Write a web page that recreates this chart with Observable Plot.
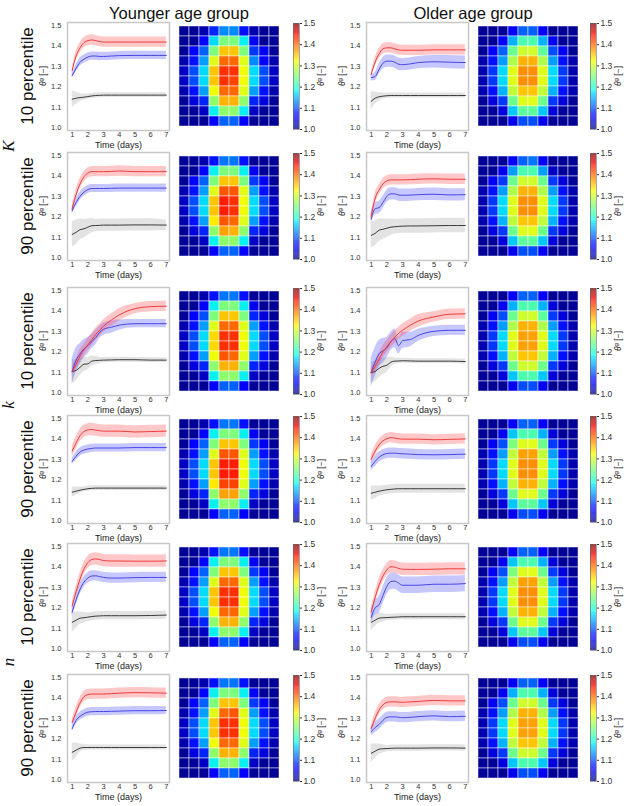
<!DOCTYPE html>
<html><head><meta charset="utf-8">
<script src="https://cdn.jsdelivr.net/npm/d3@7"></script>
<script src="https://cdn.jsdelivr.net/npm/@observablehq/plot@0.6"></script>
<style>
body{margin:0;background:#fff;font-family:"Liberation Sans",Arial,sans-serif;}
#fig{position:relative;width:625px;height:806px;overflow:hidden;background:#fff}
#fig svg{position:absolute;overflow:visible}
.lbl{position:absolute;white-space:nowrap;line-height:1;transform:translate(-50%,-50%);color:#111}
.rot{transform:translate(-50%,-50%) rotate(-90deg)}
.lbl sup{font-size:0.72em;vertical-align:0.45em;line-height:0}
</style></head>
<body><div id="fig"></div>
<script>
// ---------- data ----------
const groups = ["Younger age group", "Older age group"];
const rowLabels = ["10 percentile","90 percentile","10 percentile","90 percentile","10 percentile","90 percentile"];
const paramLabels = ["K","k","n"];
const days = [1,1.25,1.5,1.75,2,2.25,2.5,2.75,3,3.5,4,5,6,7];
const xTicks = [1,2,3,4,5,6,7];
const yTicks = [1.0,1.1,1.2,1.3,1.4,1.5];

// Younger, K 10 percentile
const yK10Red   = [1.28,1.35,1.39,1.415,1.425,1.428,1.425,1.42,1.418,1.418,1.418,1.418,1.418,1.418];
const yK10RedW  = [.015,.022,.025,.025,.025,.025,.025,.025,.025,.025,.025,.025,.025,.025];
const yK10Blue  = [1.255,1.29,1.32,1.335,1.345,1.35,1.35,1.348,1.348,1.35,1.352,1.353,1.353,1.353];
const yK10BlueW = [.012,.018,.02,.02,.02,.02,.02,.02,.02,.02,.02,.02,.02,.02];
const yK10Blk   = [1.14,1.145,1.148,1.15,1.153,1.156,1.158,1.159,1.16,1.16,1.16,1.16,1.16,1.16];
const yK10BlkW  = [.04,.03,.02,.015,.013,.012,.012,.012,.012,.012,.012,.012,.012,.012];
// Older, K 10 percentile
const oK10Red   = [1.26,1.32,1.36,1.385,1.39,1.39,1.385,1.38,1.378,1.378,1.378,1.38,1.38,1.38];
const oK10RedW  = [.012,.02,.025,.025,.025,.025,.025,.025,.025,.025,.025,.025,.025,.025];
const oK10Blue  = [1.245,1.25,1.285,1.315,1.325,1.325,1.32,1.31,1.308,1.312,1.318,1.322,1.32,1.318];
const oK10BlueW = [.015,.02,.025,.028,.03,.03,.03,.03,.03,.03,.03,.03,.032,.032];
const oK10Blk   = [1.13,1.145,1.152,1.155,1.157,1.158,1.158,1.158,1.158,1.158,1.158,1.158,1.158,1.158];
const oK10BlkW  = [.045,.03,.02,.015,.012,.012,.012,.012,.012,.012,.012,.012,.012,.012];
// Younger, K 90 percentile
const yK90Red   = [1.24,1.31,1.36,1.395,1.413,1.42,1.42,1.42,1.42,1.421,1.423,1.42,1.42,1.42];
const yK90RedW  = [.015,.022,.025,.025,.025,.025,.025,.025,.025,.025,.025,.025,.025,.025];
const yK90Blue  = [1.23,1.27,1.30,1.32,1.333,1.338,1.338,1.338,1.338,1.339,1.34,1.34,1.34,1.34];
const yK90BlueW = [.015,.02,.02,.02,.02,.02,.02,.02,.02,.02,.02,.02,.02,.02];
const yK90Blk   = [1.115,1.125,1.138,1.142,1.15,1.157,1.158,1.159,1.16,1.16,1.16,1.161,1.161,1.16];
const yK90BlkW  = [.06,.06,.05,.045,.04,.035,.03,.03,.03,.03,.03,.03,.03,.025];
// Older, K 90 percentile
const oK90Red   = [1.2,1.29,1.33,1.36,1.375,1.38,1.38,1.38,1.38,1.381,1.383,1.385,1.383,1.383];
const oK90RedW  = [.015,.025,.025,.025,.025,.025,.025,.025,.025,.025,.025,.025,.025,.025];
const oK90Blue  = [1.19,1.24,1.245,1.27,1.30,1.312,1.312,1.306,1.305,1.306,1.308,1.31,1.307,1.308];
const oK90BlueW = [.03,.03,.03,.03,.03,.03,.03,.03,.03,.03,.03,.03,.03,.03];
const oK90Blk   = [1.11,1.12,1.135,1.14,1.145,1.15,1.152,1.154,1.155,1.156,1.156,1.157,1.158,1.158];
const oK90BlkW  = [.06,.06,.055,.05,.045,.04,.035,.035,.035,.035,.035,.035,.035,.035];
// Younger, k 10 percentile
const yk10Red   = [1.105,1.14,1.18,1.21,1.235,1.26,1.285,1.305,1.325,1.355,1.38,1.41,1.42,1.422];
const yk10RedW  = [.02,.025,.03,.03,.03,.03,.03,.03,.03,.03,.03,.025,.025,.025];
const yk10Blue  = [1.105,1.16,1.19,1.215,1.23,1.25,1.27,1.295,1.31,1.32,1.33,1.337,1.337,1.337];
const yk10BlueW = [.06,.06,.05,.045,.04,.035,.035,.03,.03,.03,.025,.02,.02,.02];
const yk10Blk   = [1.105,1.11,1.125,1.14,1.142,1.155,1.158,1.159,1.16,1.161,1.162,1.162,1.16,1.16];
const yk10BlkW  = [.06,.05,.04,.035,.03,.025,.02,.015,.013,.012,.012,.012,.012,.012];
// Older, k 10 percentile
const ok10Red   = [1.10,1.13,1.165,1.2,1.225,1.25,1.27,1.29,1.305,1.33,1.35,1.37,1.383,1.385];
const ok10RedW  = [.02,.025,.03,.03,.03,.03,.03,.03,.03,.03,.03,.025,.025,.025];
const ok10Blue  = [1.10,1.15,1.19,1.205,1.22,1.25,1.265,1.23,1.255,1.26,1.28,1.30,1.305,1.305];
const ok10BlueW = [.07,.07,.065,.06,.05,.045,.045,.04,.04,.035,.03,.025,.025,.025];
const ok10Blk   = [1.10,1.105,1.12,1.13,1.135,1.15,1.155,1.156,1.157,1.156,1.155,1.155,1.155,1.153];
const ok10BlkW  = [.05,.05,.045,.04,.035,.025,.015,.013,.012,.012,.012,.012,.012,.012];
// Younger, k 90 percentile
const yk90Red   = [1.34,1.38,1.415,1.435,1.443,1.445,1.442,1.439,1.437,1.437,1.437,1.433,1.435,1.437];
const yk90RedW  = [.025,.03,.03,.03,.03,.03,.03,.03,.03,.03,.03,.03,.03,.03];
const yk90Blue  = [1.29,1.315,1.335,1.345,1.35,1.353,1.355,1.355,1.355,1.355,1.355,1.357,1.357,1.357];
const yk90BlueW = [.015,.02,.02,.02,.02,.02,.02,.02,.02,.02,.02,.02,.02,.02];
const yk90Blk   = [1.14,1.145,1.15,1.154,1.157,1.159,1.16,1.16,1.16,1.16,1.16,1.16,1.16,1.16];
const yk90BlkW  = [.025,.02,.015,.012,.012,.012,.012,.012,.012,.012,.012,.012,.012,.012];
// Older, k 90 percentile
const ok90Red   = [1.3,1.34,1.37,1.39,1.40,1.405,1.403,1.4,1.398,1.398,1.398,1.395,1.397,1.399];
const ok90RedW  = [.02,.025,.025,.025,.025,.025,.025,.025,.025,.025,.025,.025,.025,.025];
const ok90Blue  = [1.265,1.29,1.31,1.322,1.328,1.33,1.33,1.328,1.327,1.325,1.323,1.322,1.323,1.325];
const ok90BlueW = [.02,.025,.025,.025,.025,.025,.025,.025,.025,.025,.025,.025,.025,.025];
const ok90Blk   = [1.135,1.14,1.145,1.149,1.152,1.154,1.156,1.157,1.157,1.157,1.157,1.157,1.157,1.157];
const ok90BlkW  = [.035,.03,.025,.022,.022,.022,.022,.022,.022,.022,.022,.022,.022,.022];
// Younger, n 10 percentile
const yn10Red   = [1.21,1.28,1.34,1.39,1.42,1.435,1.438,1.435,1.43,1.428,1.428,1.427,1.427,1.428];
const yn10RedW  = [.02,.025,.03,.03,.03,.03,.03,.03,.03,.03,.03,.03,.03,.03];
const yn10Blue  = [1.18,1.24,1.29,1.325,1.345,1.355,1.356,1.352,1.348,1.345,1.345,1.347,1.348,1.348];
const yn10BlueW = [.02,.025,.025,.025,.025,.025,.025,.025,.025,.025,.025,.025,.025,.025];
const yn10Blk   = [1.13,1.14,1.15,1.152,1.155,1.158,1.16,1.161,1.162,1.162,1.162,1.162,1.163,1.165];
const yn10BlkW  = [.05,.04,.03,.025,.02,.02,.02,.02,.02,.02,.02,.02,.02,.02];
// Older, n 10 percentile
const on10Red   = [1.18,1.25,1.31,1.355,1.385,1.40,1.398,1.392,1.388,1.387,1.387,1.388,1.39,1.39];
const on10RedW  = [.02,.025,.03,.03,.03,.03,.03,.03,.03,.03,.03,.03,.03,.03];
const on10Blue  = [1.155,1.2,1.215,1.26,1.305,1.328,1.33,1.32,1.31,1.31,1.31,1.315,1.315,1.318];
const on10BlueW = [.03,.035,.04,.04,.04,.04,.04,.04,.04,.04,.04,.04,.04,.04];
const on10Blk   = [1.13,1.14,1.15,1.152,1.153,1.154,1.155,1.156,1.157,1.157,1.157,1.157,1.157,1.157];
const on10BlkW  = [.04,.03,.025,.02,.015,.015,.015,.015,.015,.015,.015,.015,.015,.015];
// Younger, n 90 percentile
const yn90Red   = [1.28,1.33,1.375,1.405,1.415,1.418,1.418,1.418,1.418,1.42,1.422,1.425,1.424,1.422];
const yn90RedW  = [.015,.025,.025,.025,.025,.025,.025,.025,.025,.025,.025,.025,.025,.025];
const yn90Blue  = [1.25,1.29,1.31,1.322,1.33,1.332,1.333,1.333,1.333,1.334,1.335,1.337,1.337,1.338];
const yn90BlueW = [.015,.02,.02,.02,.02,.02,.02,.02,.02,.02,.02,.02,.02,.02];
const yn90Blk   = [1.135,1.145,1.155,1.158,1.158,1.158,1.158,1.158,1.158,1.158,1.158,1.158,1.158,1.158];
const yn90BlkW  = [.045,.035,.02,.015,.012,.012,.012,.012,.012,.012,.012,.012,.012,.012];
// Older, n 90 percentile
const on90Red   = [1.25,1.3,1.34,1.365,1.378,1.38,1.38,1.379,1.378,1.38,1.382,1.387,1.385,1.385];
const on90RedW  = [.015,.025,.025,.025,.025,.025,.025,.025,.025,.025,.025,.025,.025,.025];
const on90Blue  = [1.235,1.255,1.27,1.29,1.305,1.307,1.307,1.305,1.303,1.305,1.308,1.312,1.308,1.31];
const on90BlueW = [.02,.025,.025,.025,.025,.025,.025,.025,.025,.025,.025,.025,.025,.025];
const on90Blk   = [1.13,1.14,1.15,1.152,1.153,1.154,1.155,1.155,1.155,1.155,1.155,1.156,1.156,1.155];
const on90BlkW  = [.045,.035,.025,.02,.015,.015,.015,.015,.015,.015,.015,.015,.015,.015];

// Heatmaps (10 x 10, rows top to bottom)
const heatYK10 = [
 [1.01,1.01,1.02,1.08,1.13,1.13,1.07,1.02,1.01,1.01],
 [1.01,1.01,1.06,1.17,1.25,1.25,1.18,1.05,1.01,1.01],
 [1.01,1.06,1.11,1.25,1.35,1.35,1.25,1.09,1.05,1.01],
 [1.02,1.07,1.14,1.31,1.40,1.40,1.31,1.13,1.06,1.02],
 [1.03,1.10,1.17,1.35,1.43,1.43,1.32,1.17,1.10,1.03],
 [1.03,1.10,1.17,1.35,1.43,1.42,1.32,1.17,1.10,1.03],
 [1.02,1.07,1.14,1.32,1.40,1.40,1.31,1.14,1.07,1.02],
 [1.01,1.04,1.08,1.26,1.36,1.36,1.26,1.08,1.04,1.01],
 [1.01,1.01,1.03,1.18,1.26,1.26,1.18,1.03,1.01,1.01],
 [1.01,1.01,1.01,1.06,1.11,1.11,1.06,1.01,1.01,1.01]];
const heatOK10 = [
 [1.01,1.01,1.01,1.06,1.11,1.11,1.06,1.01,1.01,1.01],
 [1.01,1.01,1.06,1.15,1.22,1.22,1.15,1.05,1.01,1.01],
 [1.01,1.06,1.11,1.24,1.30,1.30,1.23,1.10,1.05,1.01],
 [1.02,1.07,1.14,1.28,1.36,1.36,1.28,1.14,1.07,1.02],
 [1.02,1.09,1.17,1.31,1.38,1.38,1.31,1.17,1.09,1.02],
 [1.02,1.09,1.17,1.31,1.38,1.38,1.31,1.17,1.09,1.02],
 [1.02,1.07,1.15,1.29,1.35,1.35,1.29,1.15,1.07,1.02],
 [1.01,1.04,1.09,1.24,1.31,1.31,1.24,1.09,1.04,1.01],
 [1.01,1.01,1.04,1.16,1.23,1.23,1.16,1.04,1.01,1.01],
 [1.01,1.01,1.01,1.05,1.10,1.10,1.05,1.01,1.01,1.01]];
const heatYK90 = [
 [1.01,1.01,1.02,1.07,1.12,1.12,1.07,1.01,1.01,1.01],
 [1.01,1.01,1.06,1.18,1.25,1.25,1.18,1.05,1.01,1.01],
 [1.01,1.06,1.11,1.25,1.35,1.35,1.25,1.09,1.05,1.01],
 [1.02,1.07,1.14,1.31,1.41,1.41,1.31,1.14,1.07,1.02],
 [1.03,1.10,1.17,1.35,1.44,1.43,1.32,1.17,1.10,1.03],
 [1.03,1.10,1.17,1.35,1.44,1.43,1.32,1.17,1.10,1.03],
 [1.02,1.07,1.14,1.33,1.41,1.40,1.31,1.14,1.07,1.02],
 [1.01,1.04,1.08,1.26,1.37,1.36,1.26,1.08,1.04,1.01],
 [1.01,1.01,1.03,1.18,1.26,1.26,1.18,1.03,1.01,1.01],
 [1.01,1.01,1.01,1.06,1.11,1.11,1.06,1.01,1.01,1.01]];
const heatOK90 = [
 [1.01,1.01,1.01,1.06,1.11,1.12,1.06,1.01,1.01,1.01],
 [1.01,1.01,1.05,1.14,1.22,1.22,1.14,1.03,1.01,1.01],
 [1.01,1.05,1.09,1.24,1.30,1.30,1.24,1.09,1.04,1.01],
 [1.02,1.07,1.14,1.28,1.36,1.36,1.28,1.14,1.07,1.02],
 [1.02,1.09,1.17,1.31,1.38,1.38,1.31,1.17,1.09,1.02],
 [1.02,1.09,1.17,1.31,1.38,1.38,1.31,1.17,1.09,1.02],
 [1.02,1.07,1.15,1.29,1.35,1.35,1.29,1.15,1.07,1.02],
 [1.01,1.04,1.09,1.24,1.31,1.31,1.24,1.09,1.04,1.01],
 [1.01,1.01,1.04,1.16,1.23,1.23,1.16,1.04,1.01,1.01],
 [1.01,1.01,1.01,1.05,1.10,1.10,1.05,1.01,1.01,1.01]];
const heatYk10 = [
 [1.01,1.01,1.02,1.07,1.12,1.12,1.07,1.01,1.01,1.01],
 [1.01,1.01,1.06,1.18,1.25,1.25,1.18,1.05,1.01,1.01],
 [1.01,1.06,1.10,1.25,1.35,1.35,1.25,1.08,1.04,1.01],
 [1.02,1.07,1.14,1.31,1.40,1.40,1.31,1.14,1.07,1.02],
 [1.03,1.10,1.17,1.34,1.43,1.43,1.32,1.17,1.10,1.03],
 [1.03,1.10,1.17,1.34,1.43,1.43,1.32,1.17,1.10,1.03],
 [1.02,1.07,1.14,1.32,1.41,1.40,1.31,1.14,1.07,1.02],
 [1.01,1.04,1.08,1.26,1.36,1.36,1.26,1.08,1.04,1.01],
 [1.01,1.01,1.03,1.18,1.26,1.26,1.18,1.03,1.01,1.01],
 [1.01,1.01,1.01,1.06,1.11,1.11,1.06,1.01,1.01,1.01]];
const heatOk10 = [
 [1.01,1.01,1.01,1.06,1.11,1.11,1.06,1.01,1.01,1.01],
 [1.01,1.01,1.05,1.15,1.22,1.22,1.15,1.04,1.01,1.01],
 [1.01,1.05,1.10,1.24,1.30,1.30,1.23,1.09,1.04,1.01],
 [1.02,1.07,1.14,1.28,1.36,1.36,1.28,1.14,1.07,1.02],
 [1.02,1.09,1.17,1.31,1.37,1.37,1.31,1.17,1.09,1.02],
 [1.02,1.09,1.17,1.31,1.37,1.37,1.31,1.17,1.09,1.02],
 [1.02,1.07,1.15,1.29,1.35,1.35,1.29,1.15,1.07,1.02],
 [1.01,1.04,1.09,1.24,1.30,1.30,1.24,1.09,1.04,1.01],
 [1.01,1.01,1.04,1.16,1.22,1.22,1.16,1.04,1.01,1.01],
 [1.01,1.01,1.01,1.05,1.10,1.10,1.05,1.01,1.01,1.01]];
const heatYk90 = [
 [1.01,1.01,1.02,1.07,1.12,1.12,1.07,1.01,1.01,1.01],
 [1.01,1.01,1.06,1.18,1.25,1.25,1.18,1.05,1.01,1.01],
 [1.01,1.06,1.11,1.25,1.35,1.35,1.25,1.09,1.05,1.01],
 [1.02,1.07,1.14,1.31,1.41,1.41,1.31,1.14,1.07,1.02],
 [1.03,1.10,1.17,1.35,1.44,1.44,1.32,1.17,1.10,1.03],
 [1.03,1.10,1.17,1.35,1.44,1.44,1.32,1.17,1.10,1.03],
 [1.02,1.07,1.14,1.33,1.42,1.42,1.31,1.14,1.07,1.02],
 [1.01,1.04,1.08,1.26,1.37,1.37,1.26,1.08,1.04,1.01],
 [1.01,1.01,1.03,1.18,1.26,1.26,1.18,1.03,1.01,1.01],
 [1.01,1.01,1.01,1.06,1.11,1.11,1.06,1.01,1.01,1.01]];
const heatOk90 = [
 [1.01,1.01,1.01,1.06,1.11,1.11,1.06,1.01,1.01,1.01],
 [1.01,1.01,1.05,1.16,1.22,1.22,1.15,1.04,1.01,1.01],
 [1.01,1.05,1.10,1.25,1.31,1.31,1.24,1.09,1.04,1.01],
 [1.02,1.07,1.14,1.29,1.37,1.37,1.29,1.14,1.07,1.02],
 [1.02,1.09,1.17,1.31,1.38,1.38,1.31,1.17,1.09,1.02],
 [1.02,1.09,1.17,1.31,1.38,1.38,1.31,1.17,1.09,1.02],
 [1.02,1.07,1.15,1.29,1.36,1.36,1.29,1.15,1.07,1.02],
 [1.01,1.04,1.09,1.24,1.31,1.31,1.24,1.09,1.04,1.01],
 [1.01,1.01,1.04,1.16,1.23,1.23,1.16,1.04,1.01,1.01],
 [1.01,1.01,1.01,1.05,1.10,1.10,1.05,1.01,1.01,1.01]];
const heatYn10 = [
 [1.01,1.01,1.02,1.07,1.12,1.12,1.07,1.01,1.01,1.01],
 [1.01,1.01,1.06,1.18,1.25,1.25,1.18,1.05,1.01,1.01],
 [1.01,1.06,1.11,1.25,1.35,1.35,1.25,1.09,1.05,1.01],
 [1.02,1.07,1.14,1.31,1.40,1.40,1.31,1.14,1.07,1.02],
 [1.03,1.10,1.17,1.35,1.43,1.43,1.32,1.17,1.10,1.03],
 [1.03,1.10,1.17,1.35,1.43,1.43,1.32,1.17,1.10,1.03],
 [1.02,1.07,1.14,1.32,1.40,1.40,1.31,1.14,1.07,1.02],
 [1.01,1.04,1.08,1.26,1.36,1.36,1.26,1.08,1.04,1.01],
 [1.01,1.01,1.03,1.18,1.26,1.26,1.18,1.03,1.01,1.01],
 [1.01,1.01,1.01,1.06,1.11,1.11,1.06,1.01,1.01,1.01]];
const heatOn10 = [
 [1.01,1.01,1.01,1.06,1.11,1.11,1.06,1.01,1.01,1.01],
 [1.01,1.01,1.05,1.16,1.22,1.22,1.15,1.04,1.01,1.01],
 [1.01,1.05,1.10,1.25,1.31,1.31,1.24,1.09,1.04,1.01],
 [1.02,1.07,1.14,1.29,1.37,1.37,1.29,1.14,1.07,1.02],
 [1.02,1.09,1.17,1.31,1.38,1.38,1.31,1.17,1.09,1.02],
 [1.02,1.09,1.17,1.31,1.38,1.38,1.31,1.17,1.09,1.02],
 [1.02,1.07,1.15,1.29,1.36,1.36,1.29,1.15,1.07,1.02],
 [1.01,1.04,1.09,1.24,1.31,1.31,1.24,1.09,1.04,1.01],
 [1.01,1.01,1.04,1.16,1.23,1.23,1.16,1.04,1.01,1.01],
 [1.01,1.01,1.01,1.05,1.10,1.10,1.05,1.01,1.01,1.01]];
const heatYn90 = [
 [1.01,1.01,1.02,1.07,1.12,1.12,1.07,1.01,1.01,1.01],
 [1.01,1.01,1.06,1.18,1.25,1.25,1.18,1.05,1.01,1.01],
 [1.01,1.06,1.11,1.25,1.35,1.35,1.25,1.09,1.05,1.01],
 [1.02,1.07,1.14,1.31,1.40,1.41,1.31,1.14,1.07,1.02],
 [1.03,1.10,1.17,1.35,1.43,1.43,1.32,1.17,1.10,1.03],
 [1.03,1.10,1.17,1.35,1.43,1.43,1.32,1.17,1.10,1.03],
 [1.02,1.07,1.14,1.32,1.40,1.40,1.31,1.14,1.07,1.02],
 [1.01,1.04,1.08,1.26,1.36,1.36,1.26,1.08,1.04,1.01],
 [1.01,1.01,1.03,1.18,1.26,1.26,1.18,1.03,1.01,1.01],
 [1.01,1.01,1.01,1.06,1.11,1.11,1.06,1.01,1.01,1.01]];
const heatOn90 = [
 [1.01,1.01,1.01,1.06,1.11,1.11,1.06,1.01,1.01,1.01],
 [1.01,1.01,1.05,1.15,1.22,1.22,1.15,1.04,1.01,1.01],
 [1.01,1.05,1.10,1.24,1.30,1.30,1.24,1.09,1.04,1.01],
 [1.02,1.07,1.14,1.28,1.36,1.36,1.28,1.14,1.07,1.02],
 [1.02,1.09,1.17,1.31,1.37,1.37,1.31,1.17,1.09,1.02],
 [1.02,1.09,1.17,1.31,1.37,1.37,1.31,1.17,1.09,1.02],
 [1.02,1.07,1.15,1.29,1.35,1.35,1.29,1.15,1.07,1.02],
 [1.01,1.04,1.09,1.24,1.30,1.30,1.24,1.09,1.04,1.01],
 [1.01,1.01,1.04,1.16,1.22,1.22,1.16,1.04,1.01,1.01],
 [1.01,1.01,1.01,1.05,1.10,1.10,1.05,1.01,1.01,1.01]];

// ---------- panels table (built from the arrays above) ----------
const panels = [
 [[yK10Red,yK10RedW,yK10Blue,yK10BlueW,yK10Blk,yK10BlkW,heatYK10],[oK10Red,oK10RedW,oK10Blue,oK10BlueW,oK10Blk,oK10BlkW,heatOK10]],
 [[yK90Red,yK90RedW,yK90Blue,yK90BlueW,yK90Blk,yK90BlkW,heatYK90],[oK90Red,oK90RedW,oK90Blue,oK90BlueW,oK90Blk,oK90BlkW,heatOK90]],
 [[yk10Red,yk10RedW,yk10Blue,yk10BlueW,yk10Blk,yk10BlkW,heatYk10],[ok10Red,ok10RedW,ok10Blue,ok10BlueW,ok10Blk,ok10BlkW,heatOk10]],
 [[yk90Red,yk90RedW,yk90Blue,yk90BlueW,yk90Blk,yk90BlkW,heatYk90],[ok90Red,ok90RedW,ok90Blue,ok90BlueW,ok90Blk,ok90BlkW,heatOk90]],
 [[yn10Red,yn10RedW,yn10Blue,yn10BlueW,yn10Blk,yn10BlkW,heatYn10],[on10Red,on10RedW,on10Blue,on10BlueW,on10Blk,on10BlkW,heatOn10]],
 [[yn90Red,yn90RedW,yn90Blue,yn90BlueW,yn90Blk,yn90BlkW,heatYn90],[on90Red,on90RedW,on90Blue,on90BlueW,on90Blk,on90BlkW,heatOn90]]
];

// ---------- styling / layout ----------
const FONT = '"Liberation Sans", Arial, sans-serif';
const jetT = [0,0.11,0.125,0.34,0.35,0.375,0.64,0.65,0.66,0.89,0.91,1];
const jetC = ["#000080","#0000ff","#0000ff","#00dbff","#00e6f7","#15ffe2","#efff08","#f7f500","#ffec00","#ff1300","#e80000","#800000"];
const colorScale = {type:"linear", domain: jetT.map(t => 1 + 0.5*t), range: jetC, interpolate:"rgb", clamp:true};

const rowTop = [22,152,287,415,543,674];
const lineLeft = [67,366];
const heatLeft = [177,476];
const cbLeft = [293,590];
const FW = 102, FH = 108;
const ML = 40, MR = 4, MT = 4, MB = 24;

const fig = document.getElementById("fig");

function place(el, left, top) {
  el.style.left = left + "px"; el.style.top = top + "px";
  fig.appendChild(el);
}
function label(html, cx, cy, size, extra) {
  const d = document.createElement("div");
  d.className = "lbl" + (extra && extra.rot ? " rot" : "");
  d.innerHTML = html;
  d.style.left = cx + "px"; d.style.top = cy + "px";
  d.style.fontSize = size + "px";
  if (extra && extra.font) d.style.fontFamily = extra.font;
  if (extra && extra.italic) d.style.fontStyle = "italic";
  if (extra && extra.color) d.style.color = extra.color;
  fig.appendChild(d);
}
const thetaLabel = '<i>θ</i><sup>g</sup> [−]';

function linePanel(p) {
  const [r, rw, b, bw, k, kw] = p;
  const mk = (v, w) => days.map((d, i) => ({d, v: v[i], lo: v[i] - w[i], hi: v[i] + w[i]}));
  const R = mk(r, rw), B = mk(b, bw), K = mk(k, kw);
  const cv = "monotone-x";
  return Plot.plot({
    width: ML + FW + MR, height: MT + FH + MB,
    marginLeft: ML, marginRight: MR, marginTop: MT, marginBottom: MB,
    style: {fontFamily: FONT, fontSize: "7.5px", color: "#333", background: "transparent", overflow: "visible"},
    x: {domain: [0.7, 7.2], ticks: xTicks, tickSize: 0, tickPadding: 1, label: null, tickFormat: d3.format("d")},
    y: {domain: [0.988, 1.513], ticks: yTicks, tickSize: 0, tickPadding: 6, label: null, tickFormat: d3.format(".1f")},
    marks: [
      Plot.areaY(K, {x: "d", y1: "lo", y2: "hi", fill: "#808080", fillOpacity: 0.22, curve: cv}),
      Plot.areaY(B, {x: "d", y1: "lo", y2: "hi", fill: "#2020ff", fillOpacity: 0.25, curve: cv}),
      Plot.areaY(R, {x: "d", y1: "lo", y2: "hi", fill: "#ff2020", fillOpacity: 0.25, curve: cv}),
      Plot.lineY(K, {x: "d", y: "v", stroke: "#3a3a3a", strokeWidth: 1, curve: cv}),
      Plot.lineY(B, {x: "d", y: "v", stroke: "#4646e6", strokeWidth: 1, curve: cv}),
      Plot.lineY(R, {x: "d", y: "v", stroke: "#ee3c3c", strokeWidth: 1, curve: cv}),
      Plot.frame({stroke: "#c8c8c8", strokeWidth: 1.5}),
      Plot.text(["Time (days)"], {frameAnchor: "bottom", lineAnchor: "middle", dy: 14.5, textAnchor: "middle", fontSize: 9, fill: "#222"})
    ]
  });
}

function heatPanel(M) {
  const cells = M.flatMap((row, ri) => row.map((v, ci) => ({ri, ci, v})));
  return Plot.plot({
    width: 104, height: 106, margin: 0,
    style: {background: "transparent"},
    x: {type: "band", domain: d3.range(10), padding: 0, axis: null},
    y: {type: "band", domain: d3.range(10), padding: 0, axis: null},
    color: colorScale,
    marks: [
      Plot.cell(cells, {x: "ci", y: "ri", fill: "v", stroke: "#ffffff", strokeWidth: 0.8, strokeOpacity: 0.6})
    ]
  });
}

function colorbar() {
  const step = 0.0025;
  const ramp = d3.range(1, 1.5, step);
  return Plot.plot({
    width: 6 + 20, height: 106, marginLeft: 0, marginRight: 20, marginTop: 0, marginBottom: 0,
    style: {fontFamily: FONT, fontSize: "8.5px", color: "#333", background: "transparent", overflow: "visible"},
    x: {domain: [0, 1], axis: null},
    y: {domain: [1, 1.5], ticks: yTicks, tickFormat: d3.format(".1f"), axis: "right", tickSize: 2, tickPadding: 2, label: null},
    color: colorScale,
    marks: [
      Plot.rect(ramp, {x1: 0, x2: 1, y1: d => d, y2: d => d + step, fill: d => d + step / 2}),
      Plot.frame({stroke: "#666", strokeWidth: 0.6})
    ]
  });
}

// titles
label(groups[0], 179, 13, 16.5);
label(groups[1], 473, 13, 16.5);

for (let i = 0; i < 6; i++) {
  const top = rowTop[i];
  label(rowLabels[i], 27, top + FH / 2, 17, {rot: true});
  for (let g = 0; g < 2; g++) {
    const p = panels[i][g];
    place(linePanel(p), lineLeft[g] - ML, top - MT);
    place(heatPanel(p[6]), heatLeft[g], top + 1);
    place(colorbar(), cbLeft[g], top + 1);
    label(thetaLabel, lineLeft[g] - 24, top + FH / 2, 8.5, {rot: true, color: "#222"});
    label(thetaLabel, cbLeft[g] + 28, top + 54, 8.5, {rot: true, color: "#222"});
  }
}
// parameter symbols
const serif = '"Liberation Serif", "DejaVu Serif", serif';
label(paramLabels[0], 8, 146, 17, {rot: true, italic: true, font: serif});
label(paramLabels[1], 8, 405, 17, {rot: true, italic: true, font: serif});
label(paramLabels[2], 8, 662, 17, {rot: true, italic: true, font: serif});
</script>
</body></html>
